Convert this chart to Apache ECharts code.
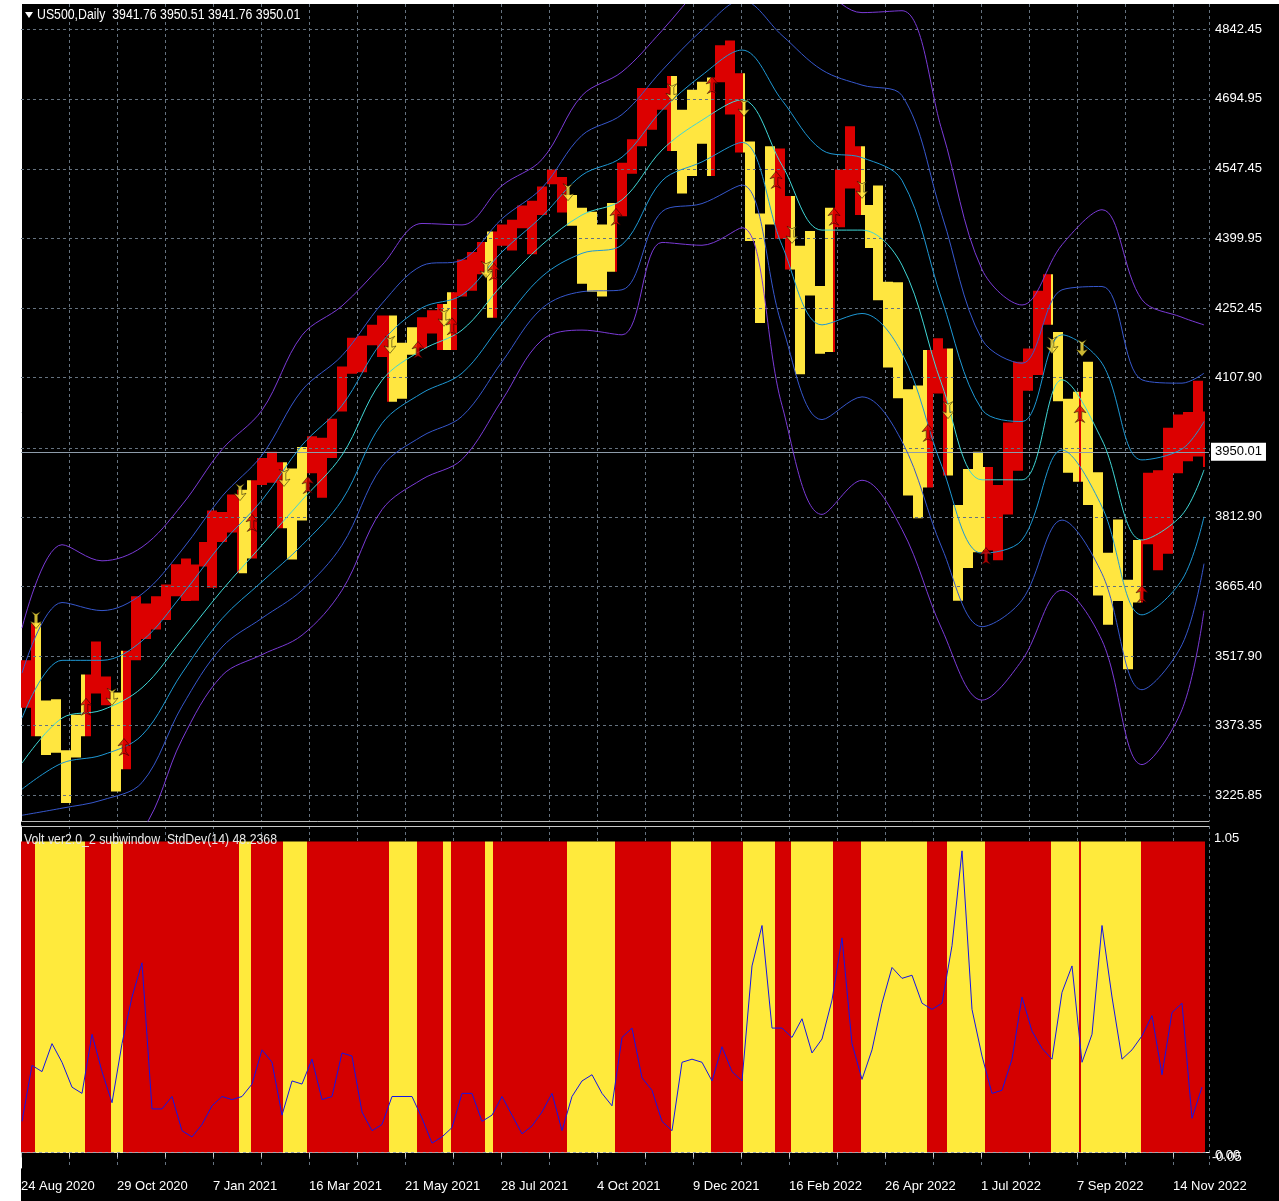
<!DOCTYPE html>
<html><head><meta charset="utf-8">
<script src="https://cdn.jsdelivr.net/npm/echarts@6/dist/echarts.min.js"></script>
<style>html,body{margin:0;padding:0;background:#fff}#c{width:1279px;height:1201px}</style>
</head><body><div id="c"></div>
<script>
// ---------------- data ----------------
const dateLabels = ['24 Aug 2020','29 Oct 2020','7 Jan 2021','16 Mar 2021','21 May 2021','28 Jul 2021','4 Oct 2021','9 Dec 2021','16 Feb 2022','26 Apr 2022','1 Jul 2022','7 Sep 2022','14 Nov 2022'];
const priceTicks = [4842.45,4694.95,4547.45,4399.95,4252.45,4107.90,3957.45,3812.90,3665.40,3517.90,3373.35,3225.85];
const priceTickLabels = ['4842.45','4694.95','4547.45','4399.95','4252.45','4107.90','','3812.90','3665.40','3517.90','3373.35','3225.85'];
const lastPrice = 3950.01;
const headerText = 'US500,Daily  3941.76 3950.51 3941.76 3950.01';
const subText = 'Volt ver2.0_2 subwindow  StdDev(14) 48.2368';
const subTicks = ['1.05','0.00','-0.05'];

// weekly high / low of the price bars (week 0 = 24 Aug 2020)
const weekHigh = [3510,3588,3425,3428,3320,3395,3480,3550,3476,3442,3530,3645,3630,3645,3670,3713,3725,3712,3760,3826,
 3823,3860,3870,3890,3937,3950,3928,3915,3960,3983,3980,4020,4130,4191,4195,4218,4238,4238,4180,4213,
 4234,4249,4262,4287,4356,4372,4393,4415,4430,4440,4470,4480,4510,4546,4530,4492,4465,4457,4430,4475,
 4560,4610,4718,4718,4718,4743,4672,4714,4731,4740,4808,4818,4749,4605,4453,4595,4590,4490,4385,4416,
 4300,4465,4546,4637,4595,4471,4512,4309,4308,4082,4090,4165,4190,4168,3838,3914,3950,3918,3880,4012,
 4140,4168,4290,4325,4203,4062,4077,4140,3907,3737,3807,3680,3764,3906,3911,4001,4029,4034,4100,4035];
const weekLow = [3410,3350,3310,3315,3209,3305,3350,3440,3415,3233,3280,3510,3555,3575,3595,3645,3635,3636,3708,3663,
 3760,3780,3694,3725,3880,3885,3789,3723,3805,3905,3853,3937,4035,4115,4118,4175,4150,4056,4062,4155,
 4168,4200,4165,4165,4278,4290,4325,4233,4385,4375,4422,4367,4450,4515,4455,4427,4305,4288,4278,4330,
 4447,4537,4595,4630,4672,4585,4495,4532,4600,4532,4730,4662,4582,4395,4222,4430,4400,4335,4114,4280,
 4157,4161,4424,4506,4450,4380,4270,4128,4063,3858,3810,3875,4073,3900,3636,3705,3738,3742,3721,3818,
 3910,4079,4112,4218,4057,3906,3887,3838,3647,3585,3635,3491,3632,3755,3700,3735,3905,3930,3940,3918];
const shortWeeks = [17,18,69,85];   // weeks with 4 sessions
const lastBar = 591;

// regime segments [startBar, endBar, 0=red 1=yellow]
const regimes = [[0,7,0],[7,32,1],[32,45,0],[45,51,1],[51,109,0],[109,115,1],[115,131,0],[131,143,1],[143,184,0],
 [184,198,1],[198,211,0],[211,215,1],[215,232,0],[232,236,1],[236,273,0],[273,297,1],[297,325,0],[325,345,1],
 [345,361,0],[361,377,1],[377,385,0],[385,406,1],[406,420,0],[420,453,1],[453,463,0],[463,482,1],[482,515,0],
 [515,529,1],[529,530,0],[530,560,1],[560,592,0]];
// arrow price at each regime switch (segments 1..)
const arrowPrices = [3595,3412,3433,3327,3865,3800,3895,3880,4176,4165,4233,4215,4334,4330,4498,4446,4709,4724,
 4676,4524,4408,4446,4503,3990,4038,3730,4175,4030,4169,3650];

// envelope bands: middle line, upper step and lower step, sampled every 20 bars
const bandBars = [0,20,40,60,80,100,120,140,160,180,200,220,240,260,280,300,320,340,360,380,400,420,440,460,480,500,520,540,560,580,591];
const bandMid  = [3293,3388,3405,3452,3553,3658,3753,3848,3943,4101,4165,4207,4302,4387,4450,4482,4587,4650,4693,4555,4418,4418,4344,4091,3891,3891,4102,3975,3764,3817,3912];
const stepUp   = [95,122,105,99,95,99,95,116,105,81,89,74,70,60,84,90,84,95,105,137,169,153,179,179,148,123,95,162,169,139,102];
const stepDown = [55,95,95,100,70,60,77,95,95,91,91,91,81,67,81,95,65,88,90,169,200,176,186,172,155,127,148,141,158,137,99];

// StdDev line in the subwindow, every 5 bars
const volValues = [0.10,0.28,0.26,0.35,0.29,0.21,0.19,0.38,0.26,0.16,0.35,0.50,0.61,0.14,0.14,0.18,0.07,0.05,0.09,0.15,
 0.18,0.17,0.18,0.22,0.33,0.29,0.12,0.23,0.22,0.30,0.17,0.18,0.32,0.31,0.13,0.07,0.09,0.18,0.18,0.18,
 0.11,0.03,0.05,0.08,0.19,0.19,0.10,0.12,0.18,0.12,0.06,0.085,0.13,0.19,0.07,0.18,0.23,0.25,0.19,0.15,
 0.37,0.40,0.24,0.20,0.10,0.07,0.29,0.30,0.29,0.23,0.34,0.26,0.23,0.60,0.73,0.40,0.40,0.37,0.43,0.32,
 0.365,0.49,0.69,0.35,0.235,0.33,0.48,0.595,0.56,0.57,0.48,0.46,0.48,0.665,0.97,0.46,0.31,0.19,0.20,0.30,
 0.50,0.39,0.335,0.30,0.515,0.60,0.29,0.38,0.73,0.50,0.30,0.33,0.375,0.44,0.25,0.45,0.48,0.11,0.21];

// ---------------- build ----------------
const FONT = "'Liberation Sans',Arial,sans-serif";
const RED = '#DC0000', YEL = '#FFE640', SRED = '#D40000', SYEL = '#FFEA3C';
const GRIDC = '#65727F';

function regimeAt(b){ for (const r of regimes) if (b>=r[0] && b<r[1]) return r[2]; return regimes[regimes.length-1][2]; }
const priceBars = [];
let st = 0;
for (let k=0;k<weekHigh.length;k++){
  const len = shortWeeks.includes(k)?4:5;
  for (let d=0; d<len; d++){ const b = st+d; if (b<=lastBar) priceBars.push([b, weekLow[k], weekHigh[k], regimeAt(b)]); }
  st += len;
}
const upArrows = [], downArrows = [];
regimes.forEach((r,i)=>{ if(i===0) return; const p=[r[0]+0.5, arrowPrices[i-1]]; if(r[2]===1) downArrows.push(p); else upArrows.push(p); });

const bandDefs = [[3,'#7A3AD6'],[2,'#3657CC'],[1,'#1E98D4'],[0,'#3FD6D6'],[-1,'#1E98D4'],[-2,'#3657CC'],[-3,'#7A3AD6']];
const bandSeries = bandDefs.map(([k,c])=>({
  type:'line', xAxisIndex:0, yAxisIndex:0, showSymbol:false, smooth:0.35, z:5, silent:true,
  lineStyle:{color:c,width:1},
  data: bandBars.map((b,i)=>[b+0.5, bandMid[i] + k*(k>0?stepUp[i]:stepDown[i])])
}));
const volData = volValues.map((v,m)=>[m*5+0.5, v]);

const ARROW_UP = 'path://M5,0 L10,6 L6.5,5 L6.5,11 L9,14 L5,12 L1,14 L3.5,11 L3.5,5 L0,6 Z';
const ARROW_DN = 'path://M5,14 L10,8 L6.5,9 L6.5,3 L9,0 L5,2 L1,0 L3.5,3 L3.5,9 L0,8 Z';

const xBase = {type:'value', min:0, max:594, interval:24};
const option = {
  backgroundColor:'#000', animation:false,
  grid:[{left:21,right:70,top:4,bottom:380},{left:21,right:70,top:826,bottom:33}],
  xAxis:[
    Object.assign({gridIndex:0, axisLabel:{show:false}, axisTick:{show:false},
      axisLine:{show:true,lineStyle:{color:'#B8B8B8'}},
      splitLine:{show:true,lineStyle:{color:GRIDC,type:[3,3]}}}, xBase),
    Object.assign({gridIndex:1, axisLine:{show:true,lineStyle:{color:'#FFFFFF'}},
      axisTick:{show:true,length:5,lineStyle:{color:'#C8C8C8'}},
      splitLine:{show:true,lineStyle:{color:GRIDC,type:[3,3]}},
      axisLabel:{show:true,color:'#FFFFFF',fontFamily:FONT,fontSize:13,align:'left',margin:12,showMaxLabel:false,
        formatter:(v)=> (v%48===0 && dateLabels[v/48]) ? dateLabels[v/48] : ''}}, xBase)
  ],
  yAxis:[
    {type:'value',gridIndex:0,min:3170.9,max:4895.2,position:'right',axisLine:{show:true,lineStyle:{color:'#FFFFFF'}},
     axisLabel:{show:false},axisTick:{show:false},splitLine:{show:false}},
    {type:'value',gridIndex:1,min:-0.05,max:1.05,position:'right',axisLine:{show:true,lineStyle:{color:'#FFFFFF'}},
     axisLabel:{show:false},axisTick:{show:false},splitLine:{show:false}}
  ],
  series:[
    {type:'line',xAxisIndex:0,yAxisIndex:0,data:[[0,4000],[1,4000]],showSymbol:false,lineStyle:{opacity:0},z:1,silent:true,
     markLine:{silent:true,symbol:'none',animation:false,
       lineStyle:{color:GRIDC,type:[3,3],width:1},
       label:{show:true,position:'end',distance:6,color:'#FFFFFF',fontFamily:FONT,fontSize:13},
       data: priceTicks.map((v,i)=>({yAxis:v,label:{formatter:priceTickLabels[i], show: priceTickLabels[i]!==''}}))}},
    {type:'custom',xAxisIndex:0,yAxisIndex:0,z:3,silent:true,data:priceBars,encode:{x:0,y:[1,2]},
     renderItem:(params,api)=>{
       const b=api.value(0), lo=api.value(1), hi=api.value(2), r=api.value(3);
       const p1=api.coord([b,hi]), p2=api.coord([b+1,lo]);
       return {type:'rect',shape:{x:p1[0],y:p1[1],width:p2[0]-p1[0],height:p2[1]-p1[1]},style:{fill:r?YEL:RED}};
     }},
    ...bandSeries,
    {type:'line',xAxisIndex:0,yAxisIndex:0,data:[[0,4000],[1,4000]],showSymbol:false,lineStyle:{opacity:0},z:8,silent:true,
     markLine:{silent:true,symbol:'none',animation:false,lineStyle:{color:'#8E9CAA',type:'solid',width:1},
       label:{show:true,position:'end',distance:2,color:'#000',backgroundColor:'#FFFFFF',padding:[3,4,2,4],
         fontFamily:FONT,fontSize:13,formatter:lastPrice.toFixed(2)},
       data:[{yAxis:lastPrice}]}},
    {type:'scatter',xAxisIndex:0,yAxisIndex:0,z:9,silent:true,symbol:ARROW_DN,symbolSize:[12,17],
     itemStyle:{color:YEL,borderColor:'#000',borderWidth:0.6},data:downArrows},
    {type:'scatter',xAxisIndex:0,yAxisIndex:0,z:9,silent:true,symbol:ARROW_UP,symbolSize:[12,17],
     itemStyle:{color:RED,borderColor:'#000',borderWidth:0.6},data:upArrows},
    // subwindow
    {type:'custom',xAxisIndex:1,yAxisIndex:1,z:3,silent:true,data:regimes,encode:{x:[0,1]},
     renderItem:(params,api)=>{
       const a=api.coord([api.value(0),1]), b=api.coord([api.value(1),0]);
       return {type:'rect',shape:{x:a[0],y:a[1],width:b[0]-a[0],height:b[1]-a[1]},style:{fill:api.value(2)?SYEL:SRED}};
     }},
    {type:'line',xAxisIndex:1,yAxisIndex:1,z:6,silent:true,showSymbol:false,data:volData,
     lineStyle:{color:'#1414E6',width:1},
     markLine:{silent:true,symbol:'none',animation:false,lineStyle:{color:'#9AA6B2',type:[3,3],width:1},
       label:{show:false},data:[{yAxis:0}]}}
  ],
  graphic:[
    {type:'rect',z:100,shape:{x:0,y:0,width:21,height:1201},style:{fill:'#FFFFFF'}},
    {type:'rect',z:100,shape:{x:0,y:0,width:1279,height:4},style:{fill:'#FFFFFF'}},
    {type:'line',z:100,shape:{x1:21,y1:826.5,x2:1209,y2:826.5},style:{stroke:'#C8C8C8',lineWidth:1}},
    {type:'polygon',z:100,shape:{points:[[25,12],[33,12],[29,18]]},style:{fill:'#FFFFFF'}},
    {type:'text',z:100,x:37,y:15,scaleX:0.82,style:{text:headerText,fill:'#FFFFFF',font:'15px '+FONT,verticalAlign:'middle'}},
    {type:'text',z:100,x:24,y:840,scaleX:0.82,style:{text:subText,fill:'#E6E6E6',font:'15px '+FONT,verticalAlign:'middle'}},
    {type:'text',z:100,x:1214,y:838,style:{text:subTicks[0],fill:'#FFFFFF',font:'13px '+FONT,verticalAlign:'middle'}},
    {type:'text',z:100,x:1215,y:1155,style:{text:subTicks[1],fill:'#FFFFFF',font:'13px '+FONT,verticalAlign:'middle'}},
    {type:'text',z:100,x:1212,y:1157,style:{text:subTicks[2],fill:'#FFFFFF',font:'13px '+FONT,verticalAlign:'middle'}}
  ]
};
const chart = echarts.init(document.getElementById('c'));
chart.setOption(option);
</script></body></html>
